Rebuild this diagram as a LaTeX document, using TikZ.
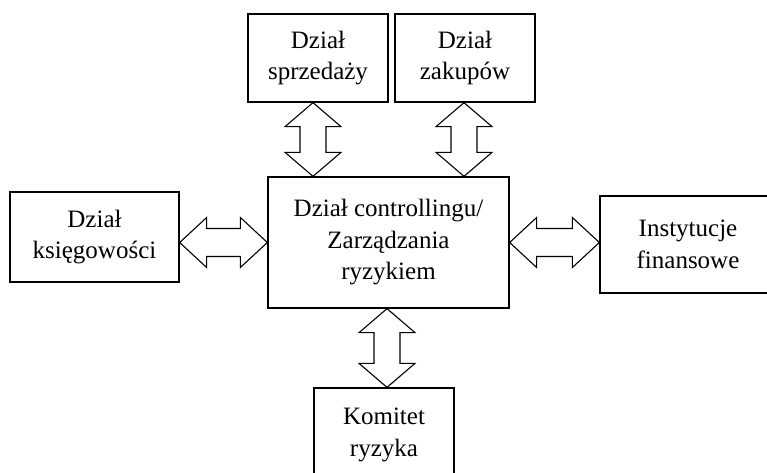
\documentclass[tikz,border=0pt]{standalone}
\usepackage{fontspec}
\setmainfont{Liberation Serif}
\usetikzlibrary{calc}
\tikzset{
  box/.style={draw=black, line width=1.3pt, fill=white, align=center, inner sep=0pt,
    font=\fontsize{25}{31.5}\selectfont},
  blockarrow/.style={draw=black, line width=1.1pt, fill=white, line join=miter}
}
\newcommand{\vdblarrow}[2]{%
  \draw[blockarrow] let \p1=(#1), \p2=(#2) in
    (\x1,\y1) -- ({\x1+28pt},{\y1-24pt}) -- ({\x1+13pt},{\y1-24pt}) --
    ({\x1+13pt},{\y2+24pt}) -- ({\x1+28pt},{\y2+24pt}) -- (\x1,\y2) --
    ({\x1-28pt},{\y2+24pt}) -- ({\x1-13pt},{\y2+24pt}) --
    ({\x1-13pt},{\y1-24pt}) -- ({\x1-28pt},{\y1-24pt}) -- cycle;}
\newcommand{\hdblarrow}[2]{%
  \draw[blockarrow] let \p1=(#1), \p2=(#2) in
    (\x1,\y1) -- ({\x1+27pt},{\y1+25pt}) -- ({\x1+27pt},{\y1+14pt}) --
    ({\x2-27pt},{\y1+14pt}) -- ({\x2-27pt},{\y1+25pt}) -- (\x2,\y1) --
    ({\x2-27pt},{\y1-25pt}) -- ({\x2-27pt},{\y1-14pt}) --
    ({\x1+27pt},{\y1-14pt}) -- ({\x1+27pt},{\y1-25pt}) -- cycle;}
\begin{document}
\begin{tikzpicture}[x=1pt,y=-1pt]
\useasboundingbox (0,0) rectangle (767,473);
\clip (0,0) rectangle (767,473);
\fill[white] (0,0) rectangle (767,473);

\node[box, minimum width=140pt, minimum height=88pt] (sp) at (318,58) {Dział\\sprzedaży};
\node[box, minimum width=140pt, minimum height=88pt] (zk) at (465,58) {Dział\\zakupów};
\node[box, minimum width=169pt, minimum height=90pt] (ks) at (94.5,237) {Dział\\księgowości};
\node[box, minimum width=241pt, minimum height=131pt] (ctr) at (388.5,242.5) {Dział controllingu/\\Zarządzania\\ryzykiem};
\node[box, minimum width=176pt, minimum height=97pt] (inst) at (688,244.5) {Instytucje\\finansowe};
\node[box, minimum width=140pt, minimum height=94pt] (kom) at (384,435) {Komitet\\ryzyka};

\path (sp.south) ++(-5,0) coordinate (a1t);
\path (a1t |- ctr.north) coordinate (a1b);
\path (zk.south) ++(-1,0) coordinate (a2t);
\path (a2t |- ctr.north) coordinate (a2b);
\path (ks.east |- ctr.center) coordinate (a3l);
\path (ctr.west |- ctr.center) coordinate (a3r);
\path (ctr.east |- ctr.center) coordinate (a4l);
\path (inst.west |- ctr.center) coordinate (a4r);
\path (ctr.south) ++(-1.5,0) coordinate (a5t);
\path (a5t |- kom.north) coordinate (a5b);

\vdblarrow{a1t}{a1b}
\vdblarrow{a2t}{a2b}
\hdblarrow{a3l}{a3r}
\hdblarrow{a4l}{a4r}
\vdblarrow{a5t}{a5b}
\end{tikzpicture}
\end{document}
